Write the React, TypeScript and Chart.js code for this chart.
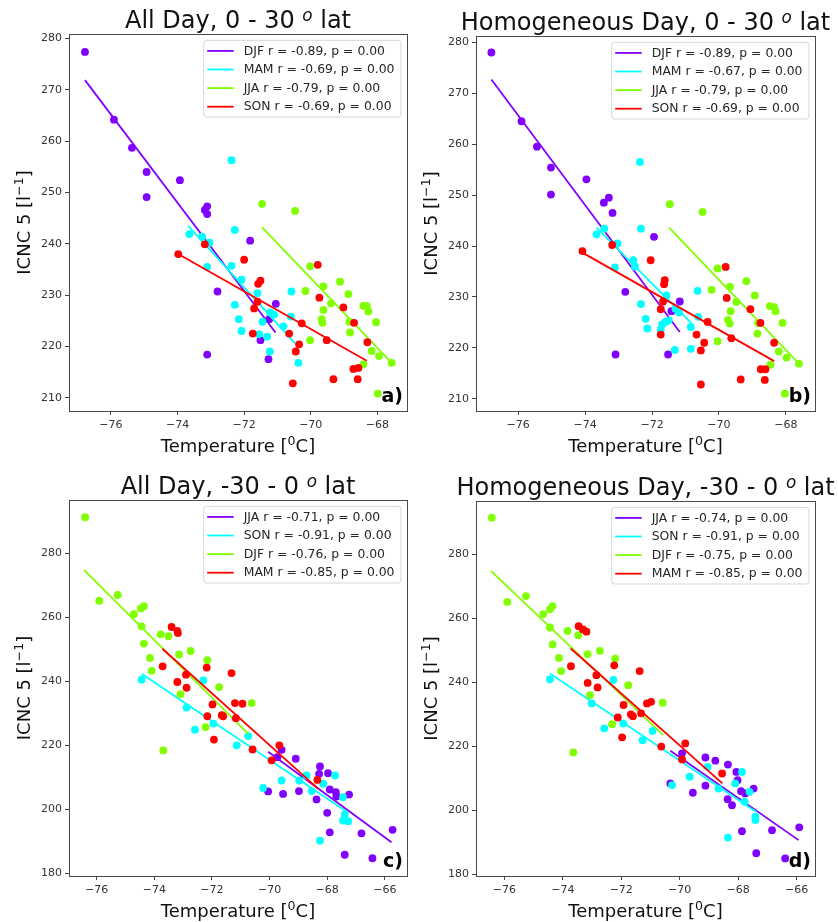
import React, { useEffect, useRef } from 'react';
import { Chart, registerables } from 'chart.js';
Chart.register(...registerables);

const FONT = '"DejaVu Sans", "Liberation Sans", sans-serif';
const SEASON_COLORS = ['#8000ff', '#00ffff', '#80ff00', '#ff0000'];

// ---------- Panel a: All Day, 0 - 30 lat (DJF, MAM, JJA, SON) ----------
const A_DJF = [[-76.78,277.4],[-75.91,264.2],[-75.37,258.7],[-74.93,254.0],[-74.93,249.1],[-73.93,252.4],[-73.11,247.3],[-73.18,246.6],[-73.11,245.8],[-71.82,240.6],[-72.80,230.7],[-73.11,218.4],[-71.51,221.2],[-71.27,217.5],[-71.05,228.3],[-71.25,225.3]];
const A_MAM = [[-72.38,256.3],[-72.28,242.7],[-73.65,241.9],[-73.26,241.4],[-73.04,240.2],[-73.11,235.5],[-72.38,235.7],[-72.08,233.0],[-72.28,228.1],[-72.16,225.3],[-72.08,223.0],[-71.60,230.4],[-71.55,222.4],[-71.31,221.9],[-71.23,219.0],[-71.45,224.8],[-71.22,226.6],[-71.10,226.2],[-70.58,230.7],[-70.60,225.8],[-70.82,223.9],[-70.37,216.8]];
const A_JJA = [[-71.46,247.8],[-70.47,246.4],[-70.02,235.6],[-70.16,230.8],[-69.62,231.7],[-69.62,227.1],[-69.67,225.3],[-69.65,224.6],[-69.39,228.4],[-69.12,232.6],[-68.87,230.2],[-68.84,224.8],[-68.82,222.7],[-70.02,221.2],[-68.42,227.9],[-68.32,227.9],[-68.27,226.8],[-68.04,224.7],[-68.17,219.1],[-67.95,218.1],[-68.42,216.5],[-67.57,216.8],[-67.99,210.8]];
const A_SON = [[-73.98,238.0],[-73.18,239.9],[-72.00,236.9],[-71.58,232.2],[-71.51,232.8],[-71.60,228.7],[-71.70,227.4],[-71.74,222.5],[-70.65,222.5],[-70.27,224.5],[-70.35,220.4],[-70.45,219.0],[-70.54,212.8],[-69.79,235.9],[-69.74,229.5],[-69.52,221.2],[-69.32,213.6],[-69.02,227.6],[-68.70,224.6],[-68.30,220.8],[-68.72,215.6],[-68.57,215.8],[-68.59,213.6]];
const A_FITS = [[-76.78,271.9,-71.06,222.7],[-73.68,243.5,-70.47,220.6],[-71.46,243.2,-67.57,216.8],[-73.98,238.0,-68.32,217.2]];
const A_LEGEND = ['DJF r = -0.89, p = 0.00','MAM r = -0.69, p = 0.00','JJA r = -0.79, p = 0.00','SON r = -0.69, p = 0.00'];

// ---------- Panel b: Homogeneous Day, 0 - 30 lat ----------
const B_DJF = [[-76.80,278.0],[-75.90,264.5],[-75.44,259.5],[-75.02,255.4],[-75.02,250.1],[-73.96,253.1],[-73.44,248.5],[-73.29,249.5],[-73.18,246.5],[-72.80,231.0],[-71.94,241.8],[-73.09,218.7],[-71.52,218.7],[-71.17,229.1],[-71.42,227.2]];
const B_MAM = [[-72.36,256.5],[-72.33,243.4],[-73.43,243.4],[-73.66,242.3],[-73.03,240.5],[-73.11,235.8],[-72.56,237.2],[-72.51,236.0],[-72.33,228.6],[-72.19,225.7],[-72.14,223.8],[-71.57,230.3],[-71.70,224.6],[-71.60,225.1],[-71.74,223.6],[-71.50,225.4],[-71.30,227.7],[-71.20,227.0],[-71.32,219.6],[-70.84,219.8],[-70.84,224.1],[-70.64,231.2],[-70.62,226.1]];
const B_JJA = [[-71.47,248.2],[-70.49,246.7],[-70.04,235.6],[-70.22,231.4],[-69.67,232.0],[-69.65,227.2],[-69.73,225.5],[-69.68,224.8],[-69.48,229.0],[-69.18,233.1],[-68.93,230.3],[-68.85,222.8],[-68.83,224.9],[-70.04,221.3],[-68.48,228.2],[-68.35,228.0],[-68.31,227.2],[-68.10,224.9],[-68.21,219.3],[-67.98,218.1],[-68.46,216.7],[-67.61,216.9],[-68.03,211.0]];
const B_SON = [[-74.08,239.0],[-73.19,240.2],[-72.04,237.2],[-71.62,233.3],[-71.64,232.5],[-71.67,229.1],[-71.74,227.6],[-71.74,222.6],[-70.67,222.6],[-70.34,225.1],[-70.44,221.0],[-70.54,219.5],[-70.54,212.8],[-69.80,235.9],[-69.77,229.8],[-69.63,221.9],[-69.35,213.8],[-69.06,227.6],[-68.76,224.9],[-68.35,221.0],[-68.75,215.8],[-68.61,215.8],[-68.63,213.7]];
const B_FITS = [[-76.80,272.7,-71.17,223.1],[-73.66,243.6,-70.82,224.8],[-71.49,243.6,-67.61,216.9],[-74.08,238.7,-68.35,217.4]];
const B_LEGEND = ['DJF r = -0.89, p = 0.00','MAM r = -0.67, p = 0.00','JJA r = -0.79, p = 0.00','SON r = -0.69, p = 0.00'];

// ---------- Panel c: All Day, -30 - 0 lat (JJA, SON, DJF, MAM) ----------
const C_JJA = [[-69.58,218.6],[-69.73,216.3],[-69.09,215.8],[-68.25,213.4],[-68.28,211.1],[-67.97,211.3],[-67.91,206.2],[-67.70,205.4],[-67.68,204.0],[-67.24,204.6],[-68.37,203.1],[-68.00,198.9],[-68.98,205.7],[-69.53,204.8],[-70.05,205.6],[-67.91,192.8],[-66.81,192.5],[-65.73,193.6],[-67.39,185.8],[-66.43,184.7]];
const C_SON = [[-74.44,240.5],[-72.88,231.8],[-72.30,240.3],[-72.59,224.9],[-71.95,226.8],[-71.14,220.0],[-70.74,222.9],[-70.22,206.7],[-69.58,209.0],[-68.97,209.0],[-68.72,210.6],[-68.54,205.7],[-68.14,208.0],[-67.73,210.6],[-67.45,203.8],[-67.39,198.4],[-67.45,196.5],[-67.27,196.3],[-68.25,190.2]];
const C_DJF = [[-76.40,291.3],[-75.91,265.2],[-75.27,267.0],[-74.71,261.0],[-74.47,262.8],[-74.36,263.5],[-74.44,257.2],[-74.36,251.8],[-74.15,247.3],[-74.09,243.3],[-73.78,254.7],[-73.51,254.1],[-73.14,248.4],[-72.74,249.5],[-72.16,246.6],[-73.09,236.0],[-73.69,218.4],[-72.22,225.7],[-71.75,238.2],[-70.62,233.2]];
const C_MAM = [[-73.40,257.0],[-73.20,255.8],[-73.18,255.1],[-73.71,244.7],[-72.90,242.1],[-73.20,239.8],[-72.88,238.0],[-72.18,244.3],[-71.32,242.6],[-71.98,232.8],[-72.16,229.1],[-71.93,221.8],[-71.66,229.4],[-71.61,229.1],[-71.20,233.2],[-70.94,233.0],[-71.17,228.5],[-70.59,218.7],[-69.66,220.0],[-69.93,215.3],[-68.34,209.2]];
const C_FITS = [[-70.05,218.0,-65.77,189.7],[-74.44,242.4,-67.27,198.9],[-76.43,274.8,-70.74,223.6],[-73.72,250.2,-68.31,206.4]];
const C_LEGEND = ['JJA r = -0.71, p = 0.00','SON r = -0.91, p = 0.00','DJF r = -0.76, p = 0.00','MAM r = -0.85, p = 0.00'];

// ---------- Panel d: Homogeneous Day, -30 - 0 lat ----------
const D_JJA = [[-70.32,208.4],[-69.92,217.8],[-69.12,216.5],[-68.78,215.5],[-68.35,214.3],[-68.06,212.0],[-68.02,209.4],[-69.12,207.7],[-69.55,205.5],[-68.36,203.5],[-68.21,201.6],[-67.90,206.0],[-67.76,205.3],[-67.47,206.8],[-67.87,193.5],[-66.84,193.8],[-65.91,194.7],[-67.38,186.6],[-66.39,185.0]];
const D_SON = [[-74.44,240.9],[-73.01,233.4],[-72.27,240.7],[-72.58,225.6],[-71.93,227.1],[-71.27,221.9],[-70.93,224.8],[-70.26,207.9],[-69.66,210.5],[-69.04,213.6],[-68.67,206.8],[-68.10,208.4],[-67.87,212.0],[-67.61,205.8],[-67.78,202.7],[-67.41,198.0],[-67.41,197.0],[-68.35,191.5]];
const D_DJF = [[-76.43,291.4],[-75.90,265.1],[-75.26,266.9],[-74.67,261.3],[-74.44,262.8],[-74.35,263.8],[-74.44,257.1],[-74.35,251.8],[-74.13,247.6],[-74.06,243.5],[-73.84,256.0],[-73.47,254.7],[-73.15,248.8],[-72.73,249.8],[-72.21,247.4],[-73.07,236.0],[-73.64,218.1],[-72.31,226.9],[-71.76,239.1],[-70.58,233.6]];
const D_MAM = [[-73.46,257.5],[-73.31,256.5],[-73.19,255.8],[-73.72,245.0],[-72.85,242.2],[-73.15,239.8],[-72.81,238.4],[-72.24,245.3],[-71.37,243.5],[-71.92,232.9],[-72.12,229.0],[-71.97,222.8],[-71.67,230.0],[-71.60,229.4],[-71.12,233.4],[-70.98,233.9],[-71.32,230.3],[-70.63,219.9],[-69.81,220.9],[-69.92,215.9],[-68.55,211.5]];
const D_FITS = [[-70.32,218.6,-65.93,190.7],[-74.44,242.75,-67.39,199.6],[-76.46,274.8,-70.56,223.5],[-73.73,250.55,-68.54,208.4]];
const D_LEGEND = ['JJA r = -0.74, p = 0.00','SON r = -0.91, p = 0.00','DJF r = -0.75, p = 0.00','MAM r = -0.85, p = 0.00'];

// ---------- Tick labels ----------
const X_TICKS_TOP = [-76, -74, -72, -70, -68];
const Y_TICKS_TOP = [210, 220, 230, 240, 250, 260, 270, 280];
const X_TICKS_BOTTOM = [-76, -74, -72, -70, -68, -66];
const Y_TICKS_BOTTOM = [180, 200, 220, 240, 260, 280];

const X_LABEL = [{ t: 'Temperature [' }, { t: '0', sup: true }, { t: 'C]' }];
const Y_LABEL = [{ t: 'ICNC 5 [l' }, { t: '\u22121', sup: true }, { t: ']' }];

type Seg = { t: string; sup?: boolean; it?: boolean };

const PANELS = [
  {
    id: 'a', left: 0, top: 0, L: 69, T: 34, R: 407, B: 411,
    title: [{ t: 'All Day, 0 - 30 ' }, { t: 'o', sup: true, it: true }, { t: ' lat' }] as Seg[],
    series: [A_DJF, A_MAM, A_JJA, A_SON], fits: A_FITS, legend: A_LEGEND,
    xr: [-77.26, -67.11], yr: [207.4, 280.9], xt: X_TICKS_TOP, yt: Y_TICKS_TOP,
  },
  {
    id: 'b', left: 419, top: 0, L: 57, T: 36, R: 396, B: 411,
    title: [{ t: 'Homogeneous Day, 0 - 30 ' }, { t: 'o', sup: true, it: true }, { t: ' lat' }] as Seg[],
    series: [B_DJF, B_MAM, B_JJA, B_SON], fits: B_FITS, legend: B_LEGEND,
    xr: [-77.26, -67.13], yr: [207.6, 281.24], xt: X_TICKS_TOP, yt: Y_TICKS_TOP,
  },
  {
    id: 'c', left: 0, top: 461, L: 69, T: 39, R: 407, B: 415,
    title: [{ t: 'All Day, -30 - 0 ' }, { t: 'o', sup: true, it: true }, { t: ' lat' }] as Seg[],
    series: [C_JJA, C_SON, C_DJF, C_MAM], fits: C_FITS, legend: C_LEGEND,
    xr: [-76.96, -65.23], yr: [179.15, 296.7], xt: X_TICKS_BOTTOM, yt: Y_TICKS_BOTTOM,
  },
  {
    id: 'd', left: 419, top: 461, L: 57, T: 40, R: 396, B: 415,
    title: [{ t: 'Homogeneous Day, -30 - 0 ' }, { t: 'o', sup: true, it: true }, { t: ' lat' }] as Seg[],
    series: [D_JJA, D_SON, D_DJF, D_MAM], fits: D_FITS, legend: D_LEGEND,
    xr: [-76.97, -65.37], yr: [179.5, 296.6], xt: X_TICKS_BOTTOM, yt: Y_TICKS_BOTTOM,
  },
];

const W = 419;
const H = 461;

function segFont(size: number, seg: Seg, bold = false) {
  const s = seg.sup ? size * 0.7 : size;
  return `${seg.it ? 'italic ' : ''}${bold ? 'bold ' : ''}${s}px ${FONT}`;
}

function drawRich(ctx: CanvasRenderingContext2D, segs: Seg[], x: number, y: number, size: number, rise: number) {
  const widths = segs.map((seg) => {
    ctx.font = segFont(size, seg);
    return ctx.measureText(seg.t).width;
  });
  const total = widths.reduce((a, b) => a + b, 0);
  let cx = x - total / 2;
  ctx.textAlign = 'left';
  ctx.textBaseline = 'alphabetic';
  segs.forEach((seg, i) => {
    ctx.font = segFont(size, seg);
    ctx.fillText(seg.t, cx, seg.sup ? y - size * rise : y);
    cx += widths[i];
  });
}

const fmt = (v: number) => (v < 0 ? '\u2212' + Math.abs(v) : String(v));

function Panel({ cfg }: { cfg: (typeof PANELS)[number] }) {
  const ref = useRef<HTMLCanvasElement>(null);
  useEffect(() => {
    const canvas = ref.current!;
    const datasets: any[] = [];
    let seq = 0;
    cfg.series.forEach((pts, i) => {
      const color = SEASON_COLORS[i];
      datasets.push({
        data: pts.map(([x, y]) => ({ x, y })),
        backgroundColor: color,
        borderColor: color,
        pointRadius: 3.9,
        pointBorderWidth: 0,
        pointHoverRadius: 3.9,
        showLine: false,
        order: 100 - seq++,
      });
      const f = cfg.fits[i];
      datasets.push({
        data: [{ x: f[0], y: f[1] }, { x: f[2], y: f[3] }],
        showLine: true,
        borderColor: color,
        backgroundColor: color,
        borderWidth: 1.8,
        pointRadius: 0,
        pointHoverRadius: 0,
        order: 100 - seq++,
      });
    });

    const deco = {
      id: 'deco' + cfg.id,
      afterDraw(chart: any) {
        const ctx: CanvasRenderingContext2D = chart.ctx;
        const { left: L, right: R, top: T, bottom: B } = chart.chartArea;
        ctx.save();
        // frame
        ctx.strokeStyle = '#4a4a4a';
        ctx.lineWidth = 1;
        ctx.strokeRect(Math.round(L) + 0.5, Math.round(T) + 0.5, Math.round(R - L), Math.round(B - T));

        // legend
        ctx.font = `12.4px ${FONT}`;
        const tw = Math.max(...cfg.legend.map((l) => ctx.measureText(l).width));
        const boxW = 40 + tw + 6.5;
        const boxH = 76.7;
        const bx = R - 6 - boxW;
        const by = T + 6.3;
        ctx.beginPath();
        (ctx as any).roundRect(bx, by, boxW, boxH, 3);
        ctx.fillStyle = 'rgba(255,255,255,0.85)';
        ctx.fill();
        ctx.strokeStyle = '#d6d6d6';
        ctx.lineWidth = 1;
        ctx.stroke();
        cfg.legend.forEach((label, i) => {
          const ry = by + 10.6 + i * 18.6;
          ctx.strokeStyle = SEASON_COLORS[i];
          ctx.lineWidth = 1.8;
          ctx.beginPath();
          ctx.moveTo(bx + 3.5, ry);
          ctx.lineTo(bx + 30, ry);
          ctx.stroke();
          ctx.fillStyle = '#262626';
          ctx.font = `12.4px ${FONT}`;
          ctx.textAlign = 'left';
          ctx.textBaseline = 'middle';
          ctx.fillText(label, bx + 40, ry + 0.5);
        });

        // title
        ctx.fillStyle = '#111';
        drawRich(ctx, cfg.title, (L + R) / 2, T - 6.3, 24, 0.3);

        // x label
        drawRich(ctx, X_LABEL as Seg[], (L + R) / 2, B + 41, 18, 0.37);

        // y label
        ctx.save();
        ctx.translate(L - 39, (T + B) / 2);
        ctx.rotate(-Math.PI / 2);
        drawRich(ctx, Y_LABEL as Seg[], 0, 0, 18, 0.37);
        ctx.restore();

        // panel letter
        ctx.fillStyle = '#000';
        ctx.font = `bold 19px ${FONT}`;
        ctx.textAlign = 'right';
        ctx.textBaseline = 'alphabetic';
        ctx.fillText(cfg.id + ')', R - 4, B - 9.5);
        ctx.restore();
      },
    };

    const tickFont = { family: FONT, size: 11 };
    const chart = new Chart(canvas, {
      type: 'scatter',
      data: { datasets },
      options: {
        animation: false,
        responsive: false,
        devicePixelRatio: 1,
        events: [],
        layout: { padding: { left: 0, top: cfg.T, right: W - cfg.R, bottom: 0 } },
        plugins: { legend: { display: false }, tooltip: { enabled: false }, title: { display: false } },
        scales: {
          x: {
            type: 'linear',
            min: cfg.xr[0],
            max: cfg.xr[1],
            afterFit: (s: any) => { s.height = H - cfg.B; },
            afterBuildTicks: (s: any) => { s.ticks = cfg.xt.map((v) => ({ value: v })); },
            ticks: { callback: (v: any) => fmt(Number(v)), font: tickFont, color: '#333', padding: 4, autoSkip: false, maxRotation: 0 },
            grid: { drawOnChartArea: false, drawTicks: true, tickLength: 4, color: '#444' },
            border: { display: false },
          },
          y: {
            type: 'linear',
            min: cfg.yr[0],
            max: cfg.yr[1],
            afterFit: (s: any) => { s.width = cfg.L; },
            afterBuildTicks: (s: any) => { s.ticks = cfg.yt.map((v) => ({ value: v })); },
            ticks: { callback: (v: any) => fmt(Number(v)), font: tickFont, color: '#333', padding: 3, autoSkip: false },
            grid: { drawOnChartArea: false, drawTicks: true, tickLength: 4, color: '#444' },
            border: { display: false },
          },
        },
      },
      plugins: [deco],
    } as any);
    return () => chart.destroy();
  }, [cfg]);

  return (
    <canvas
      ref={ref}
      width={W}
      height={H}
      style={{ position: 'absolute', left: cfg.left, top: cfg.top, width: W, height: H }}
    />
  );
}

export default function App() {
  return (
    <div style={{ position: 'absolute', left: 0, top: 0, width: 838, height: 922, background: '#fff', overflow: 'hidden' }}>
      {PANELS.map((p) => (
        <Panel key={p.id} cfg={p} />
      ))}
    </div>
  );
}
